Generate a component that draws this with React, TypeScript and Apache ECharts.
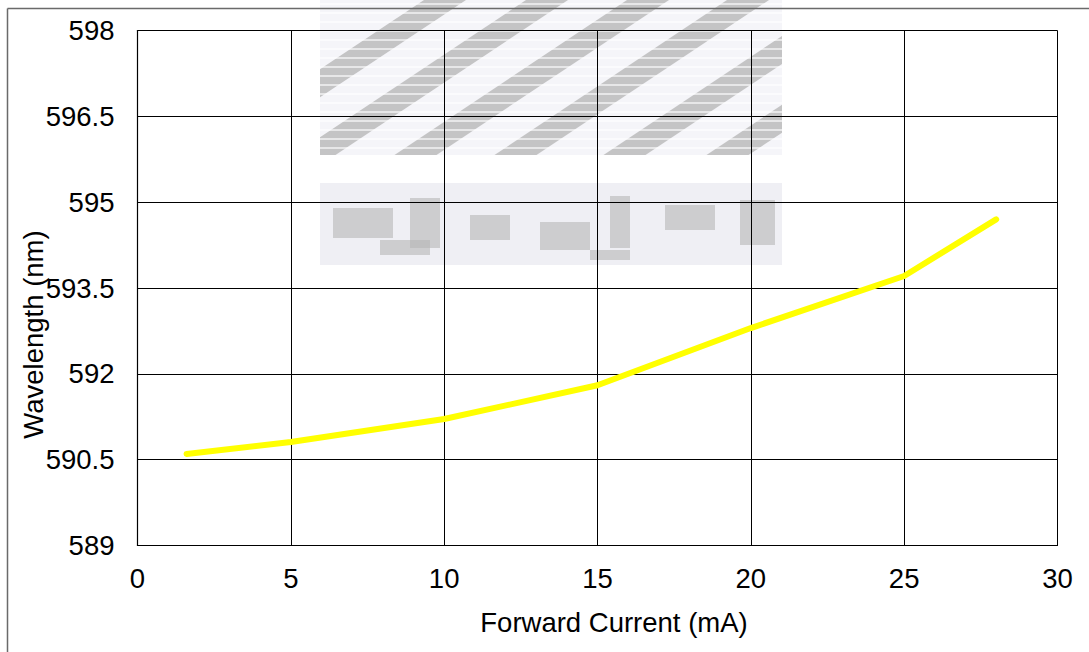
import React, { useEffect, useRef } from "react";
import * as echarts from "echarts";

// ---- data ----
const CURRENT_MA = [1.6, 5, 10, 15, 20, 25, 28];
const WAVELENGTH_NM = [590.6, 590.81, 591.21, 591.8, 592.8, 593.71, 594.7];

const X_MIN = 0;
const X_MAX = 30;
const X_STEP = 5;
const Y_MIN = 589;
const Y_MAX = 598;
const Y_STEP = 1.5;

const X_TITLE = "Forward Current (mA)";
const Y_TITLE = "Wavelength (nm)";

const FONT = "'Liberation Sans', Arial, sans-serif";
const FS = 27.5;

type Pt = [number, number];

function clipPoly(poly: Pt[], x0: number, y0: number, x1: number, y1: number): Pt[] {
  const edges: Array<[(p: Pt) => boolean, (a: Pt, b: Pt) => Pt]> = [
    [(p) => p[0] >= x0, (a, b) => { const t = (x0 - a[0]) / (b[0] - a[0]); return [x0, a[1] + t * (b[1] - a[1])]; }],
    [(p) => p[0] <= x1, (a, b) => { const t = (x1 - a[0]) / (b[0] - a[0]); return [x1, a[1] + t * (b[1] - a[1])]; }],
    [(p) => p[1] >= y0, (a, b) => { const t = (y0 - a[1]) / (b[1] - a[1]); return [a[0] + t * (b[0] - a[0]), y0]; }],
    [(p) => p[1] <= y1, (a, b) => { const t = (y1 - a[1]) / (b[1] - a[1]); return [a[0] + t * (b[0] - a[0]), y1]; }],
  ];
  let out = poly;
  for (const [inside, inter] of edges) {
    const input = out;
    out = [];
    for (let i = 0; i < input.length; i++) {
      const cur = input[i];
      const prev = input[(i + input.length - 1) % input.length];
      if (inside(cur)) {
        if (!inside(prev)) out.push(inter(prev, cur));
        out.push(cur);
      } else if (inside(prev)) {
        out.push(inter(prev, cur));
      }
    }
    if (!out.length) break;
  }
  return out;
}

function watermark(): any[] {
  const els: any[] = [];
  const L = 320, R = 782, T = 0, B = 155;
  els.push({ type: "rect", silent: true, z: -5, shape: { x: L, y: T, width: R - L, height: B - T }, style: { fill: "#f1f1f6", opacity: 0.7 } });
  const centers = [325, 427, 528, 628, 737, 840];
  const slope = 1.5;
  for (const c of centers) {
    const w = 42;
    const yRef = 80;
    const xb = c - slope * (B - yRef);
    const xt = c + slope * (yRef - T);
    const poly: Pt[] = [[xb - w / 2, B], [xb + w / 2, B], [xt + w / 2, T], [xt - w / 2, T]];
    const clipped = clipPoly(poly, L, T, R, B);
    if (clipped.length > 2) {
      els.push({ type: "polygon", silent: true, z: -4, shape: { points: clipped }, style: { fill: "#b3b3b3", opacity: 0.75 } });
    }
  }
  for (let y = 4; y < B; y += 9) {
    els.push({ type: "line", silent: true, z: -3, shape: { x1: L, y1: y, x2: R, y2: y }, style: { stroke: "#ffffff", lineWidth: 2, opacity: 0.6 } });
  }
  els.push({ type: "rect", silent: true, z: -5, shape: { x: L, y: 183, width: R - L, height: 82 }, style: { fill: "#e8e8f0", opacity: 0.7 } });
  const blocks = [
    [333, 208, 60, 30], [410, 198, 30, 50], [470, 215, 40, 25], [540, 222, 50, 28],
    [610, 196, 20, 52], [665, 205, 50, 25], [740, 200, 35, 45], [380, 240, 50, 15], [590, 250, 40, 10],
  ];
  for (const b of blocks) {
    els.push({ type: "rect", silent: true, z: -4, shape: { x: b[0], y: b[1], width: b[2], height: b[3] }, style: { fill: "#b5b5b5", opacity: 0.6 } });
  }
  return els;
}

export default function App() {
  const ref = useRef<HTMLDivElement>(null);

  useEffect(() => {
    document.body.style.margin = "0";
    if (!ref.current) return;
    const chart = echarts.init(ref.current, undefined, { renderer: "svg" });

    const data = CURRENT_MA.map((x, i) => [x, WAVELENGTH_NM[i] - Y_MIN]);

    chart.setOption({
      animation: false,
      backgroundColor: "#ffffff",
      grid: { left: 137.5, top: 30.5, right: 31.5, bottom: 106.5, containLabel: false },
      xAxis: {
        type: "value",
        min: X_MIN,
        max: X_MAX,
        interval: X_STEP,
        axisLine: { show: true, lineStyle: { color: "#000", width: 1.2 } },
        axisTick: { show: false },
        splitLine: { show: true, lineStyle: { color: "#000", width: 1 } },
        axisLabel: { fontSize: FS, color: "#000", fontFamily: FONT, margin: 19 },
      },
      yAxis: {
        type: "value",
        min: 0,
        max: Y_MAX - Y_MIN,
        interval: Y_STEP,
        axisLine: { show: true, lineStyle: { color: "#000", width: 1.2 } },
        axisTick: { show: false },
        splitLine: { show: true, lineStyle: { color: "#000", width: 1 } },
        axisLabel: {
          fontSize: FS,
          color: "#000",
          fontFamily: FONT,
          margin: 23,
          formatter: (v: number) => String(Math.round((v + Y_MIN) * 10) / 10),
        },
      },
      series: [
        {
          type: "line",
          data,
          symbol: "none",
          z: 3,
          lineStyle: { color: "#ffff00", width: 6, cap: "round", join: "round" },
        },
      ],
      graphic: {
        elements: [
          ...watermark(),
          { type: "line", silent: true, z: 10, shape: { x1: 7.5, y1: 8.5, x2: 1089, y2: 8.5 }, style: { stroke: "#6a6a6a", lineWidth: 1.5 } },
          { type: "line", silent: true, z: 10, shape: { x1: 7.5, y1: 8.5, x2: 7.5, y2: 652 }, style: { stroke: "#6a6a6a", lineWidth: 1.5 } },
          {
            type: "text",
            silent: true,
            z: 10,
            x: 614,
            y: 622,
            style: { text: X_TITLE, fontSize: FS, fontFamily: FONT, fill: "#000", textAlign: "center", textVerticalAlign: "middle" },
          },
          {
            type: "text",
            silent: true,
            z: 10,
            x: 33,
            y: 334.5,
            rotation: Math.PI / 2,
            style: { text: Y_TITLE, fontSize: FS, fontFamily: FONT, fill: "#000", textAlign: "center", textVerticalAlign: "middle" },
          },
        ],
      },
    });

    return () => chart.dispose();
  }, []);

  return <div ref={ref} style={{ width: 1089, height: 652 }} />;
}
